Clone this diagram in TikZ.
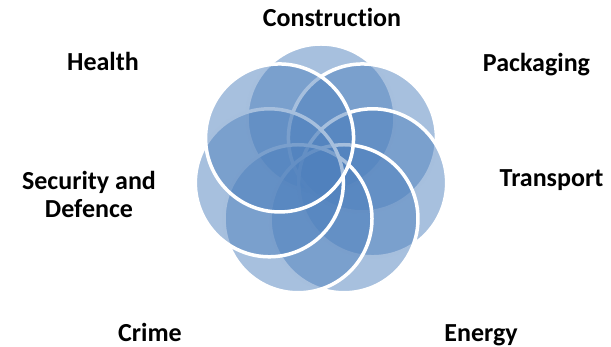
\documentclass[tikz,border=0pt]{standalone}
\usepackage{fontspec}
\setmainfont[Ligatures={NoCommon,NoContextual}]{Carlito}
\definecolor{venn}{HTML}{4F81BD}
\begin{document}
\begin{tikzpicture}[x=1pt,y=1pt,
  petal/.style={circle, minimum size=148pt, inner sep=0pt, fill=venn, fill opacity=0.5, draw=white, draw opacity=1, line width=3.5pt},
  lab/.style={font=\fontsize{26}{28}\selectfont\bfseries, align=center, inner sep=0pt, text=black}]
\useasboundingbox (0,0) rectangle (611,347);
\coordinate (C) at (321,176);
\node[petal] (construction) at ([shift={(90:53)}]C) {};
\node[petal] (packaging) at ([shift={(38.571:53)}]C) {};
\node[petal] (transport) at ([shift={(-12.857:53)}]C) {};
\node[petal] (energy) at ([shift={(-64.286:53)}]C) {};
\node[petal] (crime) at ([shift={(-115.714:53)}]C) {};
\node[petal] (security) at ([shift={(-167.143:53)}]C) {};
\node[petal] (health) at ([shift={(141.429:53)}]C) {};
\node[lab, anchor=base] (lconstruction) at (332,320) {Construct\kern0pt ion};
\node[lab, anchor=base] (lpackaging) at (536.5,275) {Packaging};
\node[lab, anchor=base] (lhealth) at (103,276) {Health};
\node[lab, anchor=base] (ltransport) at (551.5,160) {Transport};
\node[lab, anchor=base] (lsecurity) at (89,129) {Security and\\Defence};
\node[lab, anchor=base] (lcrime) at (150,5) {Crime};
\node[lab, anchor=base] (lenergy) at (481,5) {Energy};
\end{tikzpicture}
\end{document}
